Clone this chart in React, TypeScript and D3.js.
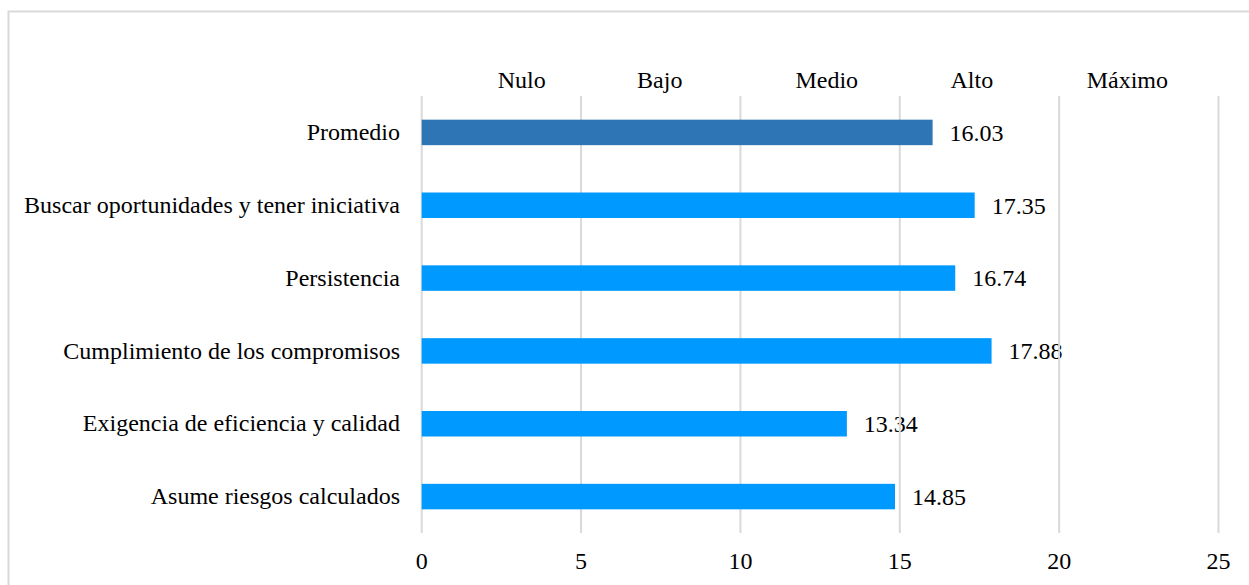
import React from "react";
import * as d3 from "d3";

const categories = [
  "Promedio",
  "Buscar oportunidades y tener iniciativa",
  "Persistencia",
  "Cumplimiento de los compromisos",
  "Exigencia de eficiencia y calidad",
  "Asume riesgos calculados",
];
const values = [16.03, 17.35, 16.74, 17.88, 13.34, 14.85];
const xTicks = [0, 5, 10, 15, 20, 25];
const levelLabels = ["Nulo", "Bajo", "Medio", "Alto", "Máximo"];
const levelAt = [3.14, 7.47, 12.71, 17.26, 22.14];

const W = 1249;
const H = 585;
const FONT = "'Liberation Serif', 'Times New Roman', serif";

export default function App() {
  const x = d3.scaleLinear().domain([0, 25]).range([421.7, 1218.5]);
  const y = d3.scaleBand<string>().domain(categories).range([96, 533]).padding(0);
  const barH = y.step() * 0.35;

  return (
    <svg
      width={W}
      height={H}
      style={{ position: "absolute", left: 0, top: 0, background: "#fff" }}
      fontFamily={FONT}
      fontSize={24}
    >
      <rect x={8.5} y={11.5} width={W + 20} height={H + 20} fill="#fff" stroke="#d9d9d9" strokeWidth={2} />
      {levelLabels.map((l, i) => (
        <text key={l} x={x(levelAt[i])} y={88} textAnchor="middle" fill="#000">
          {l}
        </text>
      ))}
      {categories.map((c, i) => {
        const cy = (y(c) as number) + y.bandwidth() / 2;
        return (
          <g key={c}>
            <text x={400} y={cy} dy="0.32em" textAnchor="end" fill="#000">
              {c}
            </text>
            <text x={x(values[i]) + 17} y={cy} dy="0.35em" textAnchor="start" fill="#000">
              {values[i].toFixed(2)}
            </text>
          </g>
        );
      })}
      {xTicks.map((t) => (
        <g key={t}>
          <line x1={x(t)} x2={x(t)} y1={96} y2={533} stroke="#d9d9d9" strokeWidth={2} />
          <text x={x(t)} y={569} textAnchor="middle" fill="#000">
            {t}
          </text>
        </g>
      ))}
      {categories.map((c, i) => {
        const cy = (y(c) as number) + y.bandwidth() / 2;
        return (
          <rect
            key={c}
            x={x(0)}
            y={cy - barH / 2}
            width={x(values[i]) - x(0)}
            height={barH}
            fill={i === 0 ? "#2e75b6" : "#0099ff"}
          />
        );
      })}
    </svg>
  );
}
